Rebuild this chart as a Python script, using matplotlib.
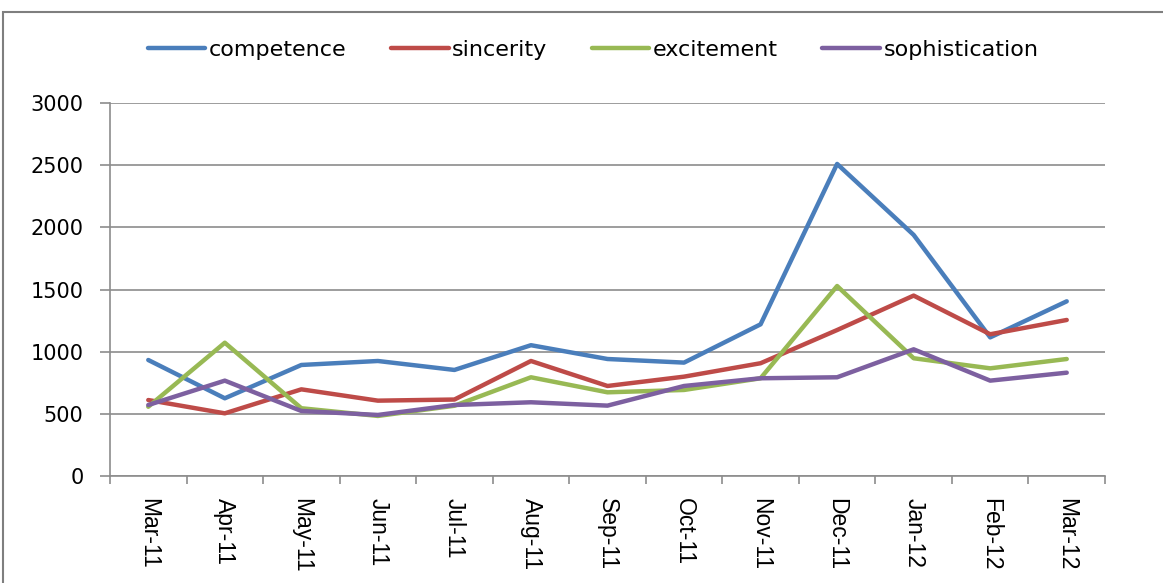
import matplotlib.pyplot as plt
from matplotlib.patches import Rectangle
import numpy as np

months = ["Mar-11", "Apr-11", "May-11", "Jun-11", "Jul-11", "Aug-11", "Sep-11",
          "Oct-11", "Nov-11", "Dec-11", "Jan-12", "Feb-12", "Mar-12"]
competence = [933, 625, 893, 925, 853, 1052, 941, 912, 1220, 2510, 1939, 1115, 1405]
sincerity = [611, 504, 697, 606, 615, 925, 724, 799, 907, 1174, 1451, 1140, 1255]
excitement = [557, 1072, 545, 483, 565, 794, 673, 692, 786, 1528, 947, 866, 941]
sophistication = [571, 767, 523, 491, 571, 593, 566, 724, 786, 794, 1019, 767, 831]

names = ["competence", "sincerity", "excitement", "sophistication"]
colors = ["#4A7EBB", "#BE4B48", "#98B954", "#7D60A0"]

plt.rcParams['font.family'] = ['DejaVu Sans']

fig = plt.figure(figsize=(11.63, 5.83), dpi=100)
W, H = 1163, 583
ax = fig.add_axes([110 / W, 1 - 476 / H, (1105 - 110) / W, (476 - 103) / H])

# chart border (right and bottom edges fall outside the picture)
fig.patches.append(Rectangle((3 / W, -0.05), 1.1, 1 - 12 / H + 0.05,
                             transform=fig.transFigure, fill=False,
                             edgecolor="#7f7f7f", linewidth=1.5))

x = np.arange(len(months))
series = [competence, sincerity, excitement, sophistication]
for name, vals, c in zip(names, series, colors):
    ax.plot(x, vals, color=c, linewidth=3.2, label=name, solid_capstyle="round")

ax.set_xlim(-0.5, len(months) - 0.5)
ax.set_ylim(0, 3000)
ax.set_yticks(range(0, 3001, 500))
ax.yaxis.grid(True, color="#8c8c8c", linewidth=1.2)
ax.set_axisbelow(True)
ax.set_xticks(x)
ax.set_xticklabels(months, rotation=-90, fontsize=16.5, family="Liberation Sans")
ax.set_xticks(np.arange(-0.5, len(months)), minor=True)
ax.tick_params(axis="x", which="major", length=0, pad=16)
ax.tick_params(axis="x", which="minor", length=6, color="#8c8c8c", width=1.2)
ax.tick_params(axis="y", length=7, color="#8c8c8c", width=1.2, labelsize=15, pad=12)
for lbl in ax.get_xticklabels():
    lbl.set_va("top")
for s in ["top", "right"]:
    ax.spines[s].set_visible(False)
ax.spines["left"].set_color("#8c8c8c")
ax.spines["bottom"].set_color("#8c8c8c")
ax.spines["left"].set_linewidth(1.2)
ax.spines["bottom"].set_linewidth(1.2)

fig.legend(loc="center", bbox_to_anchor=(593 / W, 1 - 50 / H), ncol=4, frameon=False,
           fontsize=16, handlelength=2.6, handletextpad=0.15, columnspacing=2.0)

fig.savefig("out.png", dpi=100)
